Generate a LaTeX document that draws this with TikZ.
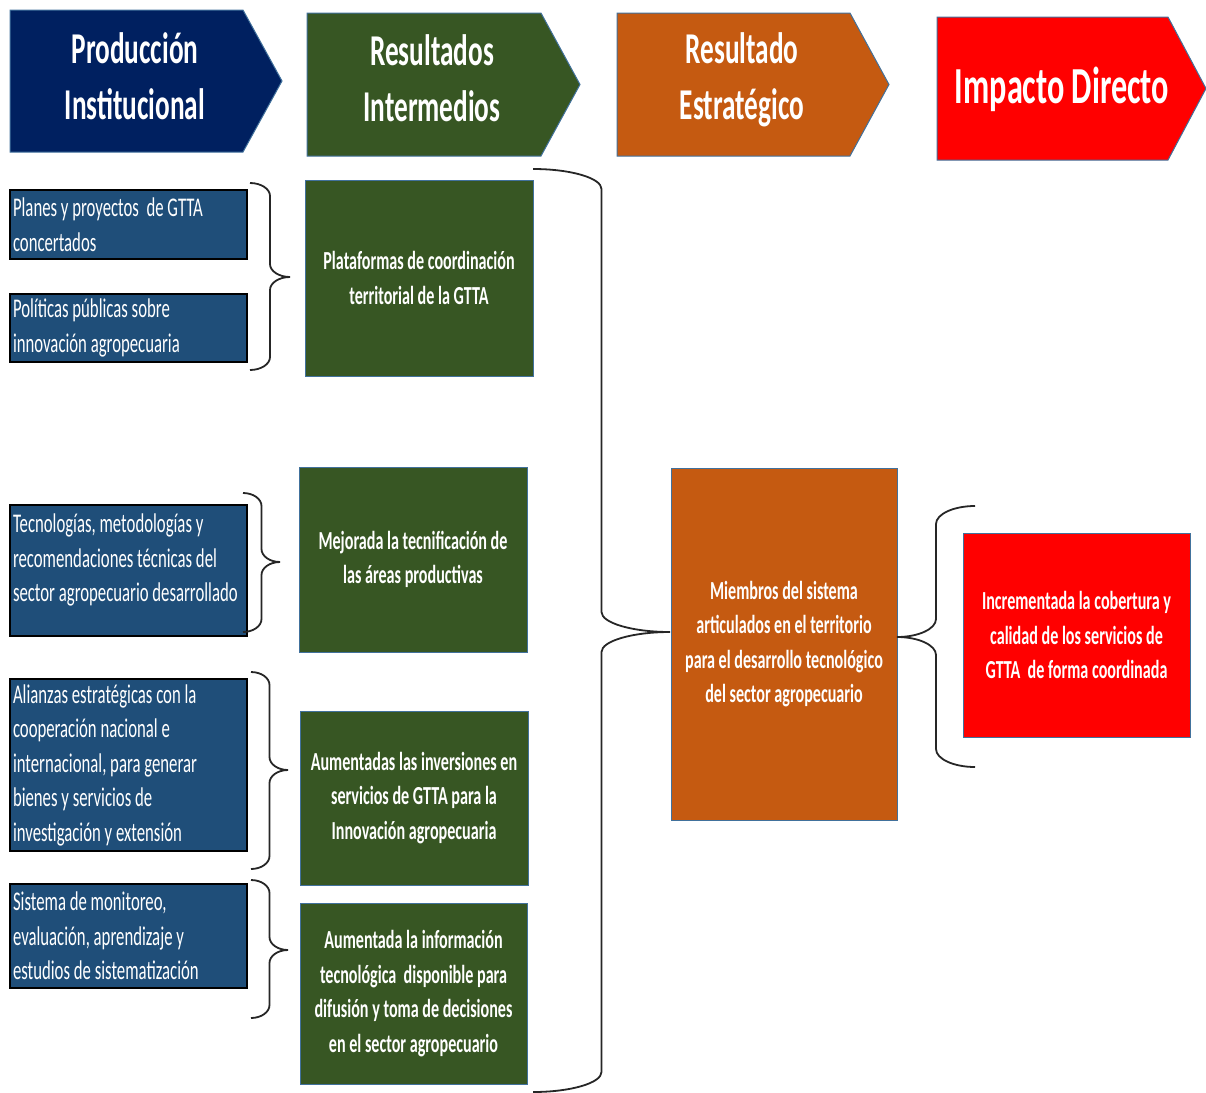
\documentclass[tikz,border=0pt]{standalone}
\usepackage{fontspec}
\setmainfont{Carlito}[FakeStretch=0.62]
\usepackage{xcolor}
\usepackage{tikz}
\usetikzlibrary{calc, positioning}

\definecolor{navyhead}{HTML}{002060}
\definecolor{greenbox}{HTML}{375623}
\definecolor{orangebox}{HTML}{C55A11}
\definecolor{redbox}{HTML}{FF0000}
\definecolor{bluebox}{HTML}{1F4E79}
\definecolor{edgeblue}{HTML}{41719C}

%Curly brace: end x, top y, tip y, bottom y, tip x, curl height
\newcommand{\curlybrace}[6]{%
  \pgfmathsetmacro\bxm{(#1+#5)/2}%
  \pgfmathsetmacro\bcx{0.55*(#5-#1)/2}%
  \pgfmathsetmacro\bcxn{-\bcx}%
  \pgfmathsetmacro\bcy{0.55*#6}%
  \draw[bracestyle] (#1,#2) .. controls +(\bcx,0) and +(0,-\bcy) .. (\bxm,#2+#6)
    -- (\bxm,#3-#6) .. controls +(0,\bcy) and +(\bcxn,0) .. (#5,#3)
    .. controls +(\bcxn,0) and +(0,-\bcy) .. (\bxm,#3+#6)
    -- (\bxm,#4-#6) .. controls +(0,\bcy) and +(\bcx,0) .. (#1,#4);}

\begin{document}
\begin{tikzpicture}[x=1pt, y=-1pt]
            %Block styles
            \tikzstyle{headshape} = [draw=edgeblue, line width=1]
            \tikzstyle{headtext} = [text=white, align=center, font=\fontsize{44}{56}\selectfont\bfseries]
            \tikzstyle{prod} = [draw=black, line width=1.5, fill=bluebox, text=white, align=flush left, text width=231pt, inner sep=3pt, font=\fontsize{27}{34.5}\selectfont]
            \tikzstyle{inter} = [draw=edgeblue, line width=1, fill=greenbox, text=white, align=center, font=\fontsize{26}{34.5}\selectfont\bfseries]
            \tikzstyle{estrat} = [inter, fill=orangebox]
            \tikzstyle{impacto} = [inter, fill=redbox]
            \tikzstyle{bracestyle} = [draw=black!85, line width=1.8]

            \useasboundingbox (0,0) rectangle (1206,1092);

            %Header arrows
            \filldraw[headshape, fill=navyhead] (10,10) -- (243,10) -- (282,81) -- (243,152) -- (10,152) -- cycle;
            \filldraw[headshape, fill=greenbox] (307,13) -- (541,13) -- (580,84.5) -- (541,156) -- (307,156) -- cycle;
            \filldraw[headshape, fill=orangebox] (617,13) -- (850,13) -- (889,84.5) -- (850,156) -- (617,156) -- cycle;
            \filldraw[headshape, fill=redbox] (937,17) -- (1168,17) -- (1206,88.5) -- (1168,160) -- (937,160) -- cycle;
            \node[headtext] (prodinst) at (135,76) {Producción\\Institucional};
            \node[headtext] (resint) at (432,78) {Resultados\\Intermedios};
            \node[headtext] (resestr) at (742,80) {Resultado\\Estratégico};
            \node[headtext, font=\fontsize{52}{60}\selectfont\bfseries] (impdir) at (1062,89) {Impacto Directo};

            %Production boxes
            \node[prod, minimum height=69pt] (planes) at (128.5,224.5) {Planes y proyectos \ de GTTA\\concertados};
            \node[prod, minimum height=68pt] (politicas) at (128.5,328) {Políticas públicas sobre\\innovación agropecuaria};
            \node[prod, minimum height=131pt, text depth=94pt] (tecno) at (128.5,570.5) {Tecnologías, metodologías y\\recomendaciones técnicas del\\sector agropecuario desarrollado};
            \node[prod, minimum height=172pt] (alianzas) at (128.5,765) {Alianzas estratégicas con la\\cooperación nacional e\\internacional, para generar\\bienes y servicios de\\investigación y extensión};
            \node[prod, minimum height=104pt] (monitoreo) at (128.5,936) {Sistema de monitoreo,\\evaluación, aprendizaje y\\estudios de sistematización};

            %Intermediate results
            \node[inter, minimum width=228pt, minimum height=196pt] (plataformas) at (419,278) {Plataformas de coordinación\\territorial de la GTTA};
            \node[inter, minimum width=228pt, minimum height=185pt] (mejorada) at (413,559.5) {Mejorada la tecnificación de\\las áreas productivas};
            \node[inter, minimum width=228pt, minimum height=174pt] (inversiones) at (414,798) {Aumentadas las inversiones en\\servicios de GTTA para la\\Innovación agropecuaria};
            \node[inter, minimum width=227pt, minimum height=181pt] (informacion) at (413.5,993.5) {Aumentada la información\\tecnológica \ disponible para\\difusión y toma de decisiones\\en el sector agropecuario};

            %Strategic result and impact
            \node[estrat, minimum width=226pt, minimum height=352pt] (miembros) at (784,644) {Miembros del sistema\\articulados en el territorio\\para el desarrollo tecnológico\\del sector agropecuario};
            \node[impacto, minimum width=227pt, minimum height=204pt] (cobertura) at (1076.5,635) {Incrementada la cobertura y\\calidad de los servicios de\\GTTA \ de forma coordinada};

            %Braces
            \curlybrace{250}{183}{277}{370}{290}{13}
            \curlybrace{243}{493}{562}{632}{280}{13}
            \curlybrace{251}{672}{770}{869}{288}{13}
            \curlybrace{251}{880}{950}{1018}{288}{13}
            \curlybrace{533}{169}{632}{1092}{670}{20}
            \curlybrace{975}{506}{637}{767}{897}{18}
        \end{tikzpicture}
\end{document}
